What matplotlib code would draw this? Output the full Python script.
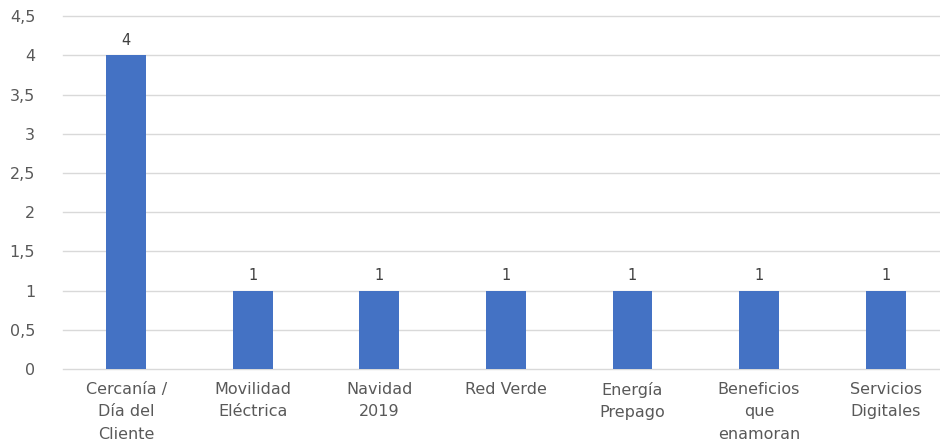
import matplotlib
matplotlib.use('Agg')
import matplotlib.pyplot as plt
from matplotlib.ticker import FuncFormatter

categories = ['Cercanía /\nDía del\nCliente', 'Movilidad\nEléctrica', 'Navidad\n2019',
              'Red Verde', 'Energía\nPrepago', 'Beneficios\nque\nenamoran', 'Servicios\nDigitales']
values = [4, 1, 1, 1, 1, 1, 1]
y_ticks = [0, 0.5, 1, 1.5, 2, 2.5, 3, 3.5, 4, 4.5]

plt.rcParams['font.family'] = ['DejaVu Sans']

fig = plt.figure(figsize=(9.4, 4.48), dpi=100)
ax = fig.add_axes([0.067, 0.176, 0.933, 0.788])

x = list(range(len(categories)))
ax.bar(x, values, width=0.315, color='#4472C4', zorder=3)
for xi, v in zip(x, values):
    ax.text(xi, v + 0.1, str(v), ha='center', va='bottom', fontsize=10.5, color='#404040')

ax.set_xlim(-0.5, 6.43)
ax.set_ylim(0, 4.5)
ax.set_yticks(y_ticks)
ax.yaxis.set_major_formatter(FuncFormatter(lambda v, p: f'{v:g}'.replace('.', ',')))
ax.set_xticks(x)
ax.set_xticklabels(categories, linespacing=1.65)
ax.tick_params(axis='both', length=0, labelsize=11.5, labelcolor='#595959')
ax.tick_params(axis='y', pad=20)
ax.tick_params(axis='x', pad=9)
for lab in ax.get_yticklabels():
    lab.set_horizontalalignment('right')

ax.grid(axis='y', color='#D9D9D9', linewidth=1, zorder=0)
for gl in ax.get_ygridlines():
    gl.set_clip_on(False)
for s in ax.spines.values():
    s.set_visible(False)

fig.savefig('out.png', dpi=100)
